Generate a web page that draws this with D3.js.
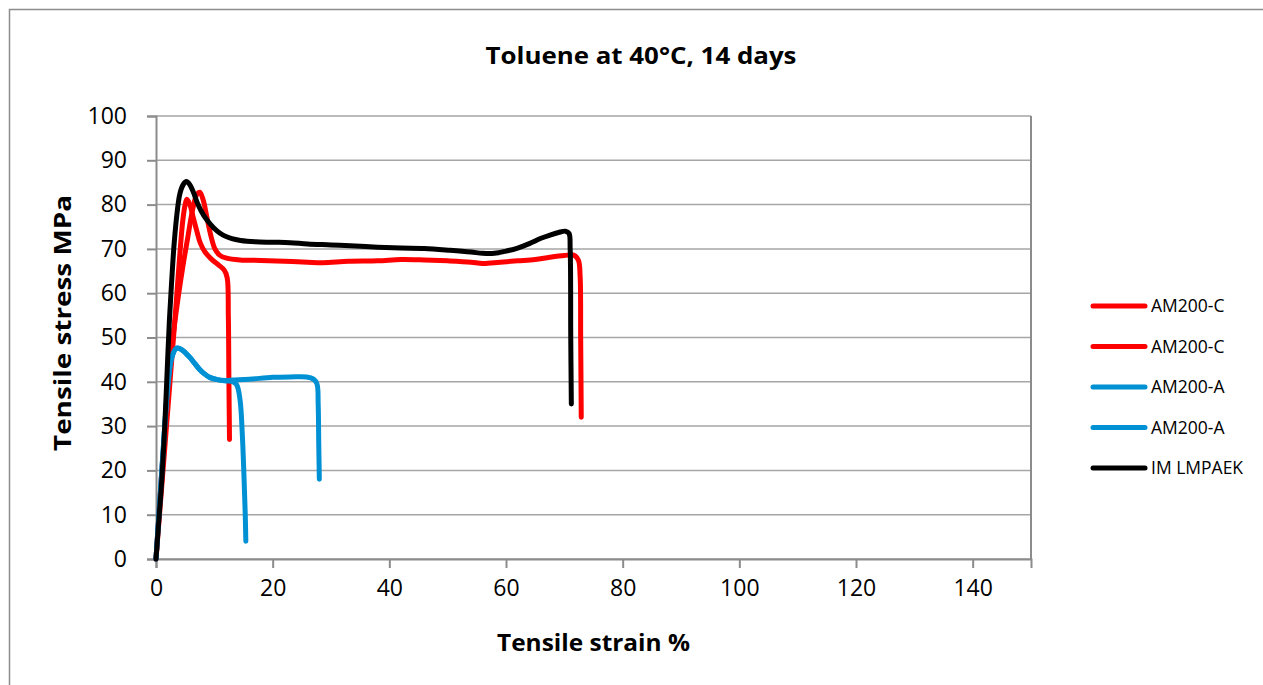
<!DOCTYPE html>
<html>
<head>
<meta charset="utf-8">
<script src="https://cdn.jsdelivr.net/npm/d3@7"></script>
<style>
  html, body { margin: 0; padding: 0; background: #fff; }
  svg { display: block; }
  text { font-family: "Open Sans", "Noto Sans", sans-serif; fill: #000; }
</style>
</head>
<body>
<svg id="chart" width="1263" height="685"></svg>
<script>
// ---------- data ----------
const title = "Toluene at 40°C, 14 days";
const xLabel = "Tensile strain %";
const yLabel = "Tensile stress MPa";
const xTicks = [0, 20, 40, 60, 80, 100, 120, 140];
const yTicks = [0, 10, 20, 30, 40, 50, 60, 70, 80, 90, 100];
const seriesNames = ["AM200-C", "AM200-C", "AM200-A", "AM200-A", "IM LMPAEK"];
const seriesColors = ["#FF0000", "#FF0000", "#0090D4", "#0090D4", "#000000"];

// AM200-C specimen 1 (short break)
const amc1 = [[0,0],[0.6,10],[1.2,20],[1.8,30],[2.4,40],[3.0,50],[3.5,58.5],[4.1,69],[4.6,76.5],[5.0,80],[5.3,81.2],[5.8,80],[6.4,77],[7.0,74],[7.6,71.3],[8.4,69.3],[9.5,67.7],[10.8,66.3],[11.7,65.2],[12.2,63.5],[12.4,55],[12.5,40],[12.6,27]];
// AM200-C specimen 2 (long)
const amc2 = [[0,0],[0.5,10],[1.0,20],[1.6,30],[2.2,40],[2.9,50],[3.8,59],[4.6,66],[5.5,73],[6.3,79],[7.0,82.3],[7.5,82.8],[8.1,81],[8.7,77.3],[9.4,73],[10.1,70],[10.9,68.6],[12.1,67.9],[14.4,67.5],[18,67.4],[22,67.2],[26,67],[28.6,66.9],[33,67.2],[38,67.3],[42,67.6],[46,67.5],[50,67.3],[54,67],[56,66.7],[59,67],[62,67.3],[65,67.6],[67.5,68.1],[70,68.5],[71.6,68.6],[72.4,67.5],[72.7,64],[72.8,50],[72.9,32]];
// AM200-A specimen 1 (short break)
const ama1 = [[0,0],[0.5,10],[1.0,20],[1.5,30],[2.1,40],[2.7,45.5],[3.5,47.6],[4.2,47.4],[5.0,46.6],[5.8,45.5],[6.6,44.2],[7.4,42.9],[8.2,41.9],[9.2,41.0],[10.5,40.5],[12,40.2],[13,40.1],[13.8,39.4],[14.4,36],[14.8,28],[15.1,18],[15.3,10],[15.4,4]];
// AM200-A specimen 2 (long)
const ama2 = [[0,0],[0.5,10],[1.0,20],[1.5,30],[2.1,40],[2.7,45.5],[3.5,47.6],[4.2,47.4],[5.0,46.6],[5.8,45.5],[6.6,44.2],[7.4,42.9],[8.2,41.9],[9.2,41.0],[10.5,40.5],[12,40.3],[13.2,40.4],[16,40.6],[20,41],[23,41.1],[25.8,41.1],[27,40.6],[27.6,39.5],[27.8,35],[27.9,26],[28,18]];
// IM LMPAEK
const imPaek = [[0,0],[0.5,9],[1.0,18],[1.5,30],[1.9,42],[2.3,54],[2.7,63],[3.1,71],[3.6,78],[4.1,82.5],[4.7,84.6],[5.2,85.2],[5.8,84.5],[6.5,82.5],[7.2,80],[8.2,77.5],[9.3,75.6],[10.5,74],[11.5,73.1],[13,72.3],[14.5,71.9],[17,71.6],[20,71.5],[23,71.4],[26,71.1],[30,70.9],[33.3,70.7],[38,70.4],[42,70.2],[46,70.1],[50.4,69.7],[54,69.3],[56,69.0],[58,69.0],[60,69.5],[62,70.2],[64,71.2],[66,72.4],[67.5,73.1],[69,73.7],[70.2,74],[70.8,73.5],[71.0,70],[71.1,50],[71.2,35]];

const seriesData = [amc1, amc2, ama1, ama2, imPaek];

// ---------- layout ----------
const svg = d3.select("#chart");
const plot = { left: 156, top: 116, right: 1031, bottom: 559 };

const x = d3.scaleLinear().domain([0, 150]).range([plot.left, plot.right]);
const y = d3.scaleLinear().domain([0, 100]).range([plot.bottom, plot.top]);

// outer chart border
svg.append("rect")
  .attr("x", 9.5).attr("y", 9.5)
  .attr("width", 1300).attr("height", 720)
  .attr("fill", "#fff")
  .attr("stroke", "#8c8c8c").attr("stroke-width", 1.5);

// gridlines
svg.append("g")
  .selectAll("line")
  .data(yTicks)
  .join("line")
  .attr("x1", plot.left).attr("x2", plot.right)
  .attr("y1", d => y(d)).attr("y2", d => y(d))
  .attr("stroke", "#a6a6a6").attr("stroke-width", 1.5);

// plot border (right side)
svg.append("line")
  .attr("x1", plot.right).attr("x2", plot.right)
  .attr("y1", plot.top).attr("y2", plot.bottom)
  .attr("stroke", "#8c8c8c").attr("stroke-width", 2);

// axes
const xAxis = d3.axisBottom(x).tickValues(xTicks).tickSize(9).tickPadding(12).tickFormat(d3.format("d"));
const yAxis = d3.axisLeft(y).tickValues(yTicks).tickSize(9).tickPadding(20).tickFormat(d3.format("d"));

const gx = svg.append("g").attr("transform", `translate(0,${plot.bottom})`).call(xAxis);
const gy = svg.append("g").attr("transform", `translate(${plot.left},0)`).call(yAxis);

[gx, gy].forEach(g => {
  g.select(".domain").attr("stroke", "#8c8c8c").attr("stroke-width", 2);
  g.selectAll(".tick line").attr("stroke", "#8c8c8c").attr("stroke-width", 2);
  g.selectAll(".tick text")
    .attr("font-family", "'Open Sans', 'Noto Sans', sans-serif")
    .attr("font-size", 23).attr("fill", "#000");
});

// series
const line = d3.line()
  .x(d => x(d[0]))
  .y(d => y(d[1]))
  .curve(d3.curveCatmullRom.alpha(0.5));

svg.append("g")
  .selectAll("path")
  .data(seriesData)
  .join("path")
  .attr("d", d => line(d))
  .attr("fill", "none")
  .attr("stroke", (d, i) => seriesColors[i])
  .attr("stroke-width", 5)
  .attr("stroke-linejoin", "round")
  .attr("stroke-linecap", "round");

// title
svg.append("text")
  .attr("x", 641).attr("y", 64)
  .attr("text-anchor", "middle")
  .attr("font-size", 24).attr("font-weight", "bold")
  .attr("textLength", 311).attr("lengthAdjust", "spacingAndGlyphs")
  .text(title);

// axis titles
svg.append("text")
  .attr("x", (plot.left + plot.right) / 2).attr("y", 651)
  .attr("text-anchor", "middle")
  .attr("font-size", 23).attr("font-weight", "bold")
  .attr("textLength", 193).attr("lengthAdjust", "spacingAndGlyphs")
  .text(xLabel);

svg.append("text")
  .attr("transform", `translate(71,323) rotate(-90)`)
  .attr("text-anchor", "middle")
  .attr("font-size", 24).attr("font-weight", "bold")
  .attr("textLength", 256).attr("lengthAdjust", "spacingAndGlyphs")
  .text(yLabel);

// legend
const legendY = d3.scalePoint().domain(d3.range(seriesNames.length)).range([306, 468]);
const lg = svg.append("g")
  .selectAll("g")
  .data(seriesNames)
  .join("g")
  .attr("transform", (d, i) => `translate(0,${legendY(i)})`);

lg.append("line")
  .attr("x1", 1093).attr("x2", 1145)
  .attr("y1", 0).attr("y2", 0)
  .attr("stroke", (d, i) => seriesColors[i])
  .attr("stroke-width", 5)
  .attr("stroke-linecap", "round");

lg.append("text")
  .attr("x", 1151).attr("y", 6)
  .attr("font-size", 17.5)
  .text(d => d);
</script>
</body>
</html>
